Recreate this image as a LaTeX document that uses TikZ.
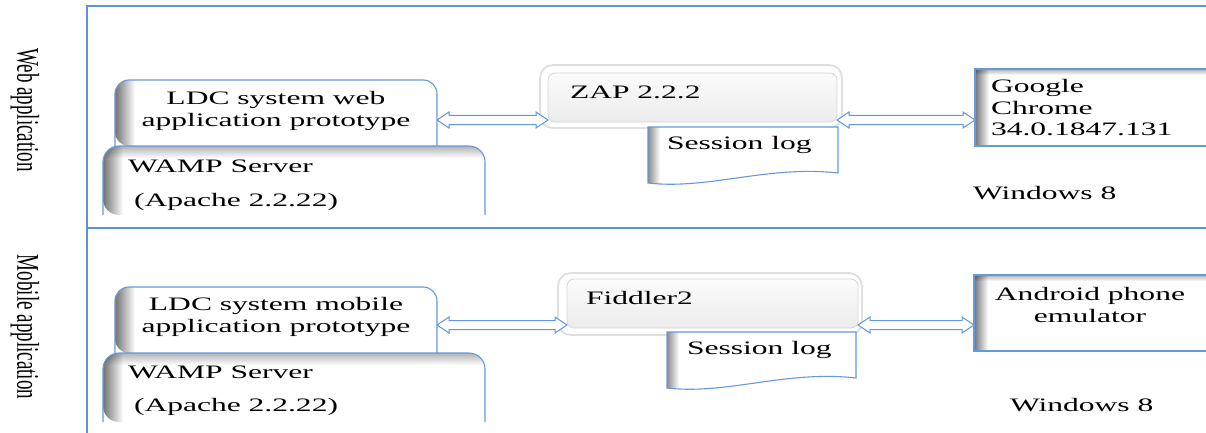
\documentclass[tikz,border=0pt]{standalone}
\usepackage{fontspec}
\setmainfont{Liberation Serif}[FakeStretch=1.66]
\newfontfamily\rotfont{Liberation Serif}
\usetikzlibrary{calc,fadings}
\definecolor{frameblue}{RGB}{91,146,218}
\definecolor{boxblue}{RGB}{100,153,220}

% box with rounded top corners and inner left/top shadow
\newcommand{\tabbox}[3]{%
  \begin{scope}
    \clip[rounded corners=#2] (#1.south west) -- (#1.north west) -- (#1.north east) -- (#1.south east) -- cycle;
    \fill[white] (#1.south west) rectangle (#1.north east);
    \fill[black, fill opacity=0.55, path fading=east] (#1.south west) rectangle ([xshift=20pt]#1.north west);
    \fill[black, fill opacity=#3, path fading=south] (#1.north west) rectangle ([yshift=-12pt]#1.north east);
  \end{scope}
  \draw[edge, rounded corners=#2] (#1.south west) -- (#1.north west) -- (#1.north east) -- (#1.south east);
}
% tool box with glow
\newcommand{\toolbox}[2]{%
  \fill[white, rounded corners=13pt] (#1.south west) rectangle (#1.north east);
  \draw[gray!25, line width=1.8pt, rounded corners=13pt] (#1.south west) rectangle (#1.north east);
  \shade[top color=gray!3, bottom color=gray!15, rounded corners=7pt] (#2.south west) rectangle (#2.north east);
  \draw[gray!32, line width=0.8pt, rounded corners=7pt] (#2.south west) rectangle (#2.north east);
}
% document shape with wavy bottom
\newcommand{\docshape}[1]{%
  \begin{scope}
    \clip (#1.north west) -- (#1.south west) .. controls ($(#1.south west)+(60pt,-7pt)$) and ($(#1.south east)+(-70pt,18pt)$) .. ($(#1.south east)+(0,10pt)$) -- (#1.north east) -- cycle;
    \fill[white] (#1.south west) rectangle (#1.north east);
    \fill[black, fill opacity=0.45, path fading=east] ([yshift=-10pt]#1.south west) rectangle ([xshift=12pt]#1.north west);
  \end{scope}
  \draw[edge] (#1.north west) -- (#1.south west) .. controls ($(#1.south west)+(60pt,-7pt)$) and ($(#1.south east)+(-70pt,18pt)$) .. ($(#1.south east)+(0,10pt)$) -- (#1.north east) -- cycle;
}
% plain box with inner shadow
\newcommand{\plainbox}[1]{%
  \begin{scope}
    \clip (#1.south west) rectangle (#1.north east);
    \fill[white] (#1.south west) rectangle (#1.north east);
    \fill[black, fill opacity=0.55, path fading=east] (#1.south west) rectangle ([xshift=14pt]#1.north west);
    \fill[black, fill opacity=0.3, path fading=south] (#1.north west) rectangle ([yshift=-6pt]#1.north east);
  \end{scope}
  \draw[edge] (#1.south west) rectangle (#1.north east);
}
% double block arrow
\newcommand{\dblarrow}[2]{%
  \draw[blockarr] let \p1=(#1), \p2=(#2) in
    (\x1,\y1) -- ++(12pt,8pt) -- ++(0,-3.5pt) -- (\x2-12pt,\y1+4.5pt) -- ++(0,3.5pt)
    -- (\x2,\y1) -- ++(-12pt,-8pt) -- ++(0,3.5pt) -- (\x1+12pt,\y1-4.5pt) -- ++(0,-3.5pt) -- cycle;
}

\begin{document}
\begin{tikzpicture}[x=1pt,y=-1pt,
  every node/.style={inner sep=0pt, outer sep=0pt},
  txt/.style={font=\fontsize{19}{21.5}\selectfont, text=black},
  rottxt/.style={font=\rotfont\fontsize{19}{21}\selectfont, text=black, rotate=-90},
  frame/.style={draw=frameblue, line width=1.2pt},
  edge/.style={draw=boxblue, line width=1.1pt},
  blockarr/.style={draw=boxblue, fill=white, line width=1pt, line join=miter},
]
\useasboundingbox (0,0) rectangle (1206,433);
\clip (0,0) rectangle (1206,433);

% frame
\draw[frame] (1210,6) -- (87,6) -- (87,440);
\draw[frame] (87,228) -- (1210,228);

% side labels
\node[rottxt] (lweb) at (25,110) {\scalebox{1}[1.66]{Web application}};
\node[rottxt] (lmob) at (25,327) {\scalebox{1}[1.66]{Mobile application}};

% ---------- top panel ----------
\node[minimum width=322pt, minimum height=66pt] (ldcw) at (276,113) {};
\node[minimum width=382pt, minimum height=69pt] (wampw) at (294,180.5) {};
\node[minimum width=302pt, minimum height=63pt] (zapo) at (691,96.5) {};
\node[minimum width=289pt, minimum height=49pt] (zapi) at (692.5,97.5) {};
\node[minimum width=190pt, minimum height=56pt] (slw) at (743,155) {};
\node[minimum width=240pt, minimum height=77pt] (chrome) at (1095,107.5) {};

\tabbox{ldcw}{14pt}{0}
\tabbox{wampw}{16pt}{0.3}
\toolbox{zapo}{zapi}
\docshape{slw}
\plainbox{chrome}

\node[txt, align=center] (tldcw) at (276,111) {LDC system web\\application prototype};
\node[txt, anchor=west] (twampw) at (128,166) {WAMP Server};
\node[txt, anchor=west] (tapw) at (134,202) {(Apache 2.2.22)};
\node[txt, anchor=west] (tzap) at (570,92) {ZAP 2.2.2};
\node[txt, anchor=west] (tslw) at (667,145) {Session log};
\node[txt, anchor=west, align=left] (tchrome) at (991,108) {Google\\Chrome\\34.0.1847.131};
\node[txt, anchor=west] (twinw) at (973,193) {Windows 8};

\coordinate (wy) at (0,120);
\dblarrow{ldcw.east |- wy}{zapi.west |- wy}
\dblarrow{zapi.east |- wy}{chrome.west |- wy}

% ---------- bottom panel ----------
\node[minimum width=322pt, minimum height=66pt] (ldcm) at (276,320) {};
\node[minimum width=382pt, minimum height=69pt] (wampm) at (294,387.5) {};
\node[minimum width=304pt, minimum height=62pt] (fido) at (710,304) {};
\node[minimum width=291pt, minimum height=49pt] (fidi) at (712.5,303.5) {};
\node[minimum width=189pt, minimum height=56pt] (slm) at (761.5,360) {};
\node[minimum width=241pt, minimum height=76pt] (android) at (1094.5,313) {};

\tabbox{ldcm}{14pt}{0}
\tabbox{wampm}{16pt}{0.3}
\toolbox{fido}{fidi}
\docshape{slm}
\plainbox{android}

\node[txt, align=center] (tldcm) at (276,317) {LDC system mobile\\application prototype};
\node[txt, anchor=west] (twampm) at (128,372) {WAMP Server};
\node[txt, anchor=west] (tapm) at (134,407) {(Apache 2.2.22)};
\node[txt, anchor=west] (tfid) at (586,298) {Fiddler2};
\node[txt, anchor=west] (tslm) at (687,350) {Session log};
\node[txt, align=center] (tandroid) at (1090,305) {Android phone\\emulator};
\node[txt, anchor=west] (twinm) at (1010,405) {Windows 8};

\coordinate (my) at (0,325);
\dblarrow{ldcm.east |- my}{fidi.west |- my}
\dblarrow{fidi.east |- my}{android.west |- my}
\end{tikzpicture}
\end{document}
